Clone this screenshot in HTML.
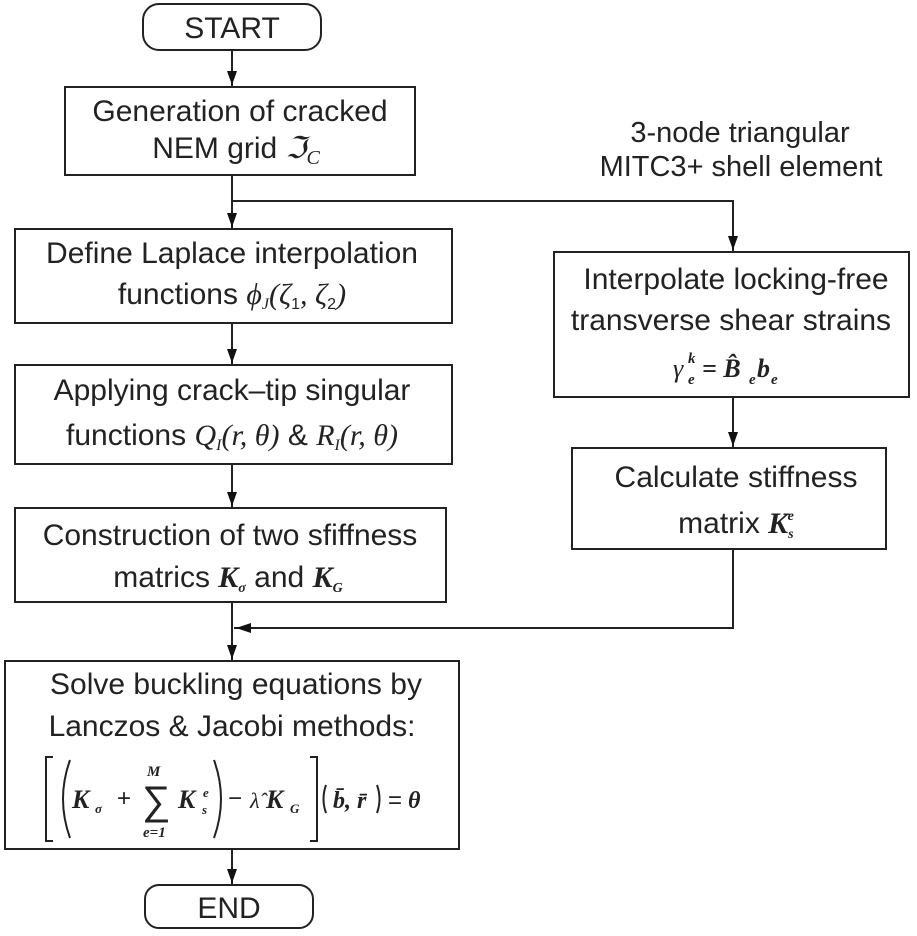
<!DOCTYPE html>
<html><head><meta charset="utf-8"><style>
html,body{margin:0;padding:0;background:#fff;}
svg{display:block;}
text{font-family:"Liberation Sans",sans-serif;fill:#222;}
.m{font-family:"Liberation Serif",serif;font-style:italic;}
.b{font-family:"Liberation Serif",serif;font-style:italic;font-weight:bold;}
</style></head><body>
<svg width="917" height="936" viewBox="0 0 917 936" xmlns="http://www.w3.org/2000/svg">
<g stroke="#222" stroke-width="2" fill="none">
<rect x="143" y="4" width="178" height="46" rx="16"/>
<rect x="65" y="87" width="350" height="88"/>
<rect x="15" y="229" width="437" height="94"/>
<rect x="15" y="365" width="437" height="99"/>
<rect x="15" y="508" width="431" height="94"/>
<rect x="5" y="661" width="454" height="188"/>
<rect x="145" y="885" width="168" height="43" rx="14"/>
<rect x="554" y="252" width="355" height="145"/>
<rect x="572" y="448" width="314" height="101"/>
<line x1="232" y1="50" x2="232" y2="87"/>
<line x1="232" y1="175" x2="232" y2="229"/>
<polyline points="232,201 733,201 733,252"/>
<line x1="232" y1="323" x2="232" y2="365"/>
<line x1="232" y1="464" x2="232" y2="508"/>
<line x1="232" y1="602" x2="232" y2="661"/>
<line x1="733" y1="397" x2="733" y2="448"/>
<polyline points="733,549 733,628 234,628"/>
<line x1="232" y1="849" x2="232" y2="885"/>
</g>
<g fill="#111">
<path d="M227,71 L237,71 L232,85 Z"/>
<path d="M227,213 L237,213 L232,227 Z"/>
<path d="M728,236 L738,236 L733,250 Z"/>
<path d="M227,349 L237,349 L232,363 Z"/>
<path d="M227,492 L237,492 L232,506 Z"/>
<path d="M227,645 L237,645 L232,659 Z"/>
<path d="M728,432 L738,432 L733,446 Z"/>
<path d="M227,869 L237,869 L232,883 Z"/>
<path d="M236,628 L251,623 L251,633 Z"/>
</g>
<g text-anchor="middle" font-size="30">
<text x="232" y="38">START</text>
<text x="229" y="918">END</text>
<text x="240" y="121">Generation of cracked</text>
<text x="236" y="158">NEM grid <tspan class="m">ℑ</tspan><tspan class="m" font-size="20" dy="6">C</tspan></text>
<text x="232" y="263">Define Laplace interpolation</text>
<text x="232" y="304">functions <tspan class="m">ϕ</tspan><tspan class="m" font-size="16" dy="5">J</tspan><tspan class="m" dy="-5">(ζ</tspan><tspan font-size="16" dy="5">1</tspan><tspan class="m" dy="-5">, ζ</tspan><tspan font-size="16" dy="5">2</tspan><tspan class="m" dy="-5">)</tspan></text>
<text x="232" y="400">Applying crack–tip singular</text>
<text x="232" y="445">functions <tspan class="m">Q</tspan><tspan class="m" font-size="16" dy="5">I</tspan><tspan class="m" dy="-5">(r, θ)</tspan> &amp; <tspan class="m">R</tspan><tspan class="m" font-size="16" dy="5">I</tspan><tspan class="m" dy="-5">(r, θ)</tspan></text>
<text x="230" y="545">Construction of two sfiffness</text>
<text x="228" y="587">matrics <tspan class="b">K</tspan><tspan class="b" font-size="14" dy="5">σ</tspan><tspan dy="-5"> and </tspan><tspan class="b">K</tspan><tspan class="b" font-size="14" dy="5">G</tspan></text>
<text x="236" y="694">Solve buckling equations by</text>
<text x="232" y="736">Lanczos &amp; Jacobi methods:</text>
<text x="740" y="142" font-size="29">3-node triangular</text>
<text x="741" y="176" font-size="29">MITC3+ shell element</text>
<text x="736" y="289">Interpolate locking-free</text>
<text x="731" y="330">transverse shear strains</text>
<text x="736" y="487">Calculate stiffness</text>
<text x="736" y="533">matrix <tspan class="b">K</tspan><tspan class="b" font-size="14" dy="5">s</tspan><tspan class="b" font-size="14" dx="-6" dy="-18">e</tspan></text>
</g>
<g>
<text x="673" y="377" class="m" font-size="26">γ</text>
<text x="688" y="384" class="b" font-size="15">e</text>
<text x="688" y="363" class="b" font-size="15">k</text>
<text x="702" y="377" class="b" font-size="26">= B̂</text>
<text x="749" y="384" class="b" font-size="15">e</text>
<text x="757" y="377" class="b" font-size="26">b</text>
<text x="771" y="384" class="b" font-size="15">e</text>
</g>
<g fill="none" stroke="#222" stroke-width="2">
<path d="M53,757 L46,757 L46,841 L53,841"/>
<path d="M70,760 Q56,799 70,838"/>
<path d="M214,760 Q228,799 214,838"/>
<path d="M310,757 L317,757 L317,841 L310,841"/>
<path d="M326,785 Q321,799 326,813"/>
<path d="M377,785 Q382,799 377,813"/>
</g>
<g>
<text x="72" y="808" class="b" font-size="26">K</text>
<text x="95" y="813" class="b" font-size="13">σ</text>
<text x="117" y="806" font-family="Liberation Serif" font-size="24">+</text>
<text x="142" y="814" font-family="Liberation Serif" font-size="40">∑</text>
<text x="147" y="776" class="b" font-size="15">M</text>
<text x="143" y="837" class="b" font-size="15">e=1</text>
<text x="178" y="808" class="b" font-size="26">K</text>
<text x="203" y="797" class="b" font-size="13">e</text>
<text x="202" y="814" class="b" font-size="13">s</text>
<text x="228" y="806" font-family="Liberation Serif" font-size="24">−</text>
<text x="250" y="808" class="m" font-size="22">λ̂</text>
<text x="266" y="808" class="b" font-size="26">K</text>
<text x="290" y="813" class="b" font-size="13">G</text>
<text x="333" y="808" class="b" font-size="24">b̄, r̄</text>
<text x="388" y="808" font-family="Liberation Serif" font-size="24">=</text>
<text x="408" y="808" class="b" font-size="24">θ</text>
</g>
</svg>
</body></html>
